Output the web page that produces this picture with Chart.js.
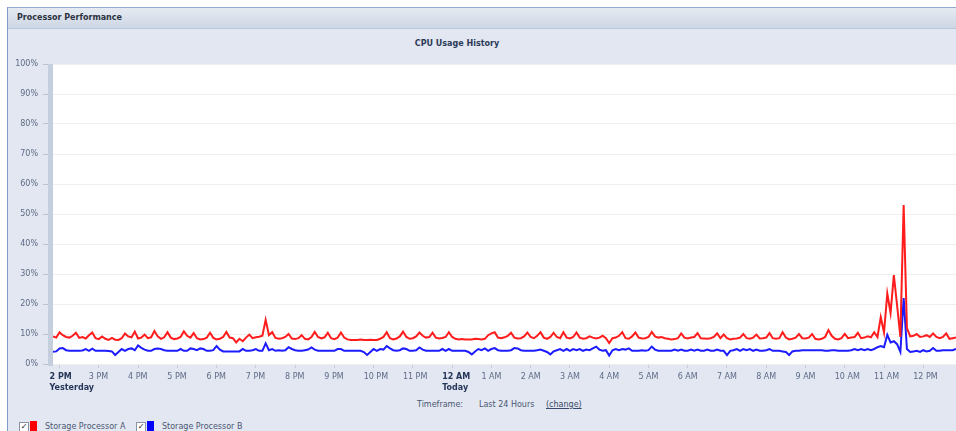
<!DOCTYPE html>
<html>
<head>
<meta charset="utf-8">
<script src="https://cdn.jsdelivr.net/npm/chart.js@4/dist/chart.umd.min.js"></script>
<style>
  html, body { margin: 0; padding: 0; background: #fff; }
  body { width: 956px; height: 431px; overflow: hidden; position: relative; font-family: "DejaVu Sans", Verdana, sans-serif; }
  #frame { position: absolute; left: 7px; top: 7px; right: 0; bottom: 0; border-left: 1px solid #7f9acb; border-top: 1px solid #93a9d1; }
  #header { position: absolute; left: 8px; top: 8px; width: 948px; height: 20px; background: linear-gradient(#e6ebf2, #cdd6e4); border-bottom: 1px solid #b9c5d8; font-size: 8px; font-weight: bold; color: #2d3340; line-height: 20px; }
  #header span { padding-left: 9px; }
  #panel { position: absolute; left: 8px; top: 29px; width: 948px; height: 402px; background: #e2e7f1; }
  #title { position: absolute; left: 357px; top: 39px; width: 200px; text-align: center; font-size: 8px; font-weight: bold; color: #2c3a58; }
  #chartBox { position: absolute; left: 8px; top: 28px; width: 948px; height: 372px; }
  .tf { position: absolute; top: 400px; font-size: 8px; color: #4b5872; }
  .tf u { color: #3a4a6a; }
  .leg { position: absolute; top: 421px; height: 10px; }
  .chk { position: absolute; top: 1px; width: 8px; height: 8px; border: 1px solid #8a93a3; background: #fff; font-size: 8px; line-height: 8px; color: #222; text-align: center; }
  .sw { position: absolute; top: 0; width: 7px; height: 10px; }
  .lt { position: absolute; top: 1px; font-size: 8px; color: #4b5872; white-space: nowrap; }
</style>
</head>
<body>
<div id="frame"></div>
<div id="header"><span>Processor Performance</span></div>
<div id="panel"></div>
<div id="title">CPU Usage History</div>
<div id="chartBox"><canvas id="chart"></canvas></div>

<div class="tf" style="left:417px">Timeframe:</div>
<div class="tf" style="left:479px">Last 24 Hours</div>
<div class="tf" style="left:546px"><u>(change)</u></div>

<div class="leg" style="left:0">
  <div class="chk" style="left:19px">&#10003;</div>
  <div class="sw" style="left:30px;background:#ff0000"></div>
  <div class="lt" style="left:45px">Storage Processor A</div>
  <div class="chk" style="left:136px">&#10003;</div>
  <div class="sw" style="left:147px;background:#0000ff"></div>
  <div class="lt" style="left:162px">Storage Processor B</div>
</div>

<script>
// hour ticks, 0 = 2 PM yesterday
const hourLabels = [
  ["2 PM", "Yesterday"], "3 PM", "4 PM", "5 PM", "6 PM", "7 PM", "8 PM", "9 PM", "10 PM", "11 PM",
  ["12 AM", "Today"], "1 AM", "2 AM", "3 AM", "4 AM", "5 AM", "6 AM", "7 AM", "8 AM", "9 AM",
  "10 AM", "11 AM", "12 PM"
];
const boldTicks = [0, 10];

// samples every 5 minutes, first one at 1:50 PM (10 min before the first tick)
const firstSampleMin = -10;
const sampleStepMin = 5;

const yTicks = [0, 10, 20, 30, 40, 50, 60, 70, 80, 90, 100];

// Storage Processor A (%), one row per hour
const spA = [
  9.2, 8.8,
  10.6, 9.6, 9.0, 8.8, 9.4, 10.4, 8.7, 9.0, 8.5, 9.6, 10.5, 8.6,
  8.3, 9.2, 8.4, 8.0, 8.7, 8.1, 8.0, 8.6, 10.2, 9.2, 8.9, 10.8,
  8.5, 8.8, 9.8, 8.6, 8.9, 11.0, 9.2, 8.4, 8.9, 10.6, 8.8, 8.3,
  8.5, 9.0, 10.9, 9.4, 8.8, 10.3, 8.6, 8.2, 8.3, 8.8, 10.4, 8.7,
  8.2, 8.4, 9.0, 10.7, 8.8, 8.6, 7.2, 8.4, 7.6, 8.8, 9.8, 8.6,
  8.9, 9.1, 9.4, 14.7, 9.6, 10.6, 8.7, 8.4, 8.6, 9.0, 10.0, 8.5,
  8.3, 8.6, 9.6, 8.4, 8.2, 9.0, 10.7, 9.0, 8.5, 8.9, 10.4, 8.6,
  8.3, 8.8, 10.5, 8.8, 8.2, 8.0, 8.0, 8.0, 8.2, 8.0, 8.0, 8.1,
  8.0, 8.0, 8.4, 9.0, 10.6, 8.6, 8.2, 8.5, 9.2, 10.8, 9.0, 8.4,
  8.6, 9.2, 10.5, 9.4, 8.8, 9.0, 10.4, 8.8, 8.5, 8.7, 9.0, 10.6,
  9.0, 8.4, 8.2, 8.3, 8.2, 8.2, 8.2, 8.4, 8.3, 8.2, 8.4, 9.6,
  10.2, 10.6, 8.8, 8.6, 8.9, 9.4, 10.4, 8.8, 8.5, 8.6, 9.2, 10.5,
  9.0, 8.6, 9.4, 10.6, 8.8, 8.4, 9.0, 10.4, 9.0, 8.6, 10.6, 8.8,
  8.5, 9.0, 10.5, 8.8, 8.4, 8.6, 9.2, 8.8, 8.5, 8.8, 9.4, 8.6,
  7.0, 8.6, 8.8, 9.4, 10.6, 8.6, 8.4, 9.2, 10.5, 8.8, 8.5, 8.6,
  9.0, 10.7, 9.2, 8.8, 9.0, 8.6, 8.4, 8.2, 8.3, 8.6, 10.2, 8.8,
  8.5, 8.8, 9.0, 10.3, 8.6, 8.5, 8.4, 8.6, 9.0, 10.2, 8.6, 9.8,
  8.6, 8.2, 8.4, 8.5, 8.8, 10.0, 8.6, 8.4, 8.8, 9.8, 8.5, 8.6,
  8.8, 10.3, 8.6, 8.4, 8.6, 10.6, 8.8, 8.2, 8.4, 8.8, 10.0, 8.6,
  8.5, 8.8, 10.0, 8.4, 8.2, 8.4, 9.0, 11.3, 9.4, 8.4, 8.2, 8.6,
  10.0, 8.6, 8.8, 9.0, 10.4, 8.6, 8.8, 9.2, 8.9, 10.6, 9.0, 15.6,
  10.5, 23.5, 17.0, 29.6, 19.5, 9.0, 53.0, 12.0, 9.2, 9.4, 10.0, 9.0,
  9.2, 9.6, 9.0, 10.2, 9.0, 8.6, 9.0, 10.2, 8.4, 8.6, 8.8
];

// Storage Processor B (%)
const spB = [
  4.1, 4.2,
  5.2, 5.3, 4.6, 4.4, 4.4, 4.4, 4.4, 4.5, 5.0, 4.4, 5.1, 4.4,
  4.4, 4.4, 4.4, 4.3, 4.2, 3.0, 4.0, 5.0, 4.4, 5.0, 5.2, 4.6,
  6.2, 5.4, 4.8, 4.4, 4.4, 5.0, 5.2, 5.0, 4.6, 4.4, 4.4, 4.4,
  4.4, 5.0, 4.4, 4.4, 5.2, 5.0, 4.6, 5.2, 5.0, 4.4, 4.4, 4.6,
  6.0, 4.8, 4.2, 4.2, 4.2, 4.2, 4.2, 4.2, 5.0, 4.4, 4.4, 4.6,
  5.0, 4.4, 4.4, 6.9, 4.6, 5.0, 4.4, 4.6, 4.4, 4.6, 5.6, 5.0,
  4.6, 4.4, 4.4, 4.6, 4.8, 5.5, 4.8, 4.4, 4.4, 4.4, 4.4, 4.4,
  4.4, 5.0, 5.0, 4.4, 4.4, 4.4, 4.4, 4.4, 4.4, 4.0, 3.0, 4.0,
  5.0, 4.4, 5.0, 4.8, 6.0, 5.2, 4.6, 4.4, 4.6, 5.2, 5.0, 4.4,
  4.4, 4.6, 5.5, 4.8, 4.4, 4.4, 4.4, 4.4, 4.4, 5.0, 4.4, 5.0,
  4.4, 4.4, 4.4, 4.4, 4.4, 4.0, 3.2, 4.2, 5.0, 4.6, 5.2, 4.4,
  5.0, 5.3, 4.6, 4.4, 4.4, 4.4, 4.6, 5.3, 5.2, 4.6, 4.4, 4.4,
  4.4, 4.4, 4.6, 4.8, 4.4, 4.0, 3.2, 4.2, 4.6, 5.0, 4.4, 5.0,
  4.4, 5.0, 4.6, 5.0, 4.4, 4.8, 4.6, 5.2, 5.8, 4.8, 4.4, 4.6,
  2.8, 4.6, 5.0, 4.6, 5.0, 4.8, 5.2, 4.4, 4.4, 4.4, 4.6, 4.4,
  4.6, 5.8, 4.8, 4.4, 4.4, 4.4, 4.4, 4.4, 4.8, 4.4, 4.8, 4.4,
  4.4, 4.8, 4.4, 4.8, 4.4, 4.4, 4.8, 4.4, 4.4, 4.8, 4.4, 4.4,
  3.0, 4.4, 4.6, 5.0, 4.4, 5.0, 4.6, 5.0, 4.4, 4.8, 4.4, 4.4,
  4.6, 5.0, 4.4, 4.4, 4.4, 4.2, 4.0, 3.0, 4.2, 4.4, 4.4, 4.6,
  4.6, 4.6, 4.6, 4.6, 4.6, 4.6, 4.4, 4.4, 4.6, 4.6, 4.4, 4.4,
  4.4, 4.4, 4.6, 5.0, 4.6, 5.0, 4.6, 5.0, 4.6, 5.0, 5.6, 6.0,
  5.6, 9.7, 7.2, 7.6, 6.6, 4.0, 22.0, 5.0, 4.0, 4.2, 4.4, 4.0,
  4.6, 4.2, 4.4, 5.3, 4.4, 4.4, 4.6, 4.6, 4.6, 4.6, 5.0
];

const FONT = "'DejaVu Sans', Verdana, sans-serif";

function toPoints(values) {
  return values.map((v, i) => ({ x: (firstSampleMin + i * sampleStepMin) / 60, y: v }));
}

// white plot background + the grey strip along the y axis
const plotBackground = {
  id: "plotBackground",
  beforeDraw(chart) {
    const { ctx, chartArea: a } = chart;
    ctx.save();
    ctx.fillStyle = "#ffffff";
    ctx.fillRect(a.left, a.top, a.right - a.left, a.bottom - a.top);
    ctx.restore();
  },
  afterDraw(chart) {
    const { ctx, chartArea: a } = chart;
    ctx.save();
    ctx.fillStyle = "#c4cedc";
    ctx.fillRect(a.left - 5, a.top, 5, a.bottom - a.top + 2);
    ctx.restore();
  }
};

const ctx = document.getElementById("chart").getContext("2d");
new Chart(ctx, {
  type: "line",
  data: {
    datasets: [
      {
        label: "Storage Processor A",
        data: toPoints(spA),
        borderColor: "#ff1c1c",
        borderWidth: 2,
        pointRadius: 0,
        tension: 0,
        fill: false
      },
      {
        label: "Storage Processor B",
        data: toPoints(spB),
        borderColor: "#1c1cff",
        borderWidth: 2,
        pointRadius: 0,
        tension: 0,
        fill: false
      }
    ]
  },
  options: {
    responsive: true,
    maintainAspectRatio: false,
    animation: false,
    layout: { padding: { top: 36, left: 0, right: 0, bottom: 0 } },
    plugins: {
      legend: { display: false },
      tooltip: { enabled: false },
      title: { display: false }
    },
    scales: {
      x: {
        type: "linear",
        min: firstSampleMin / 60,
        max: (firstSampleMin + (spA.length - 1) * sampleStepMin) / 60,
        afterBuildTicks: function(scale) {
          scale.ticks = hourLabels.map((l, i) => ({ value: i }));
        },
        afterFit: function(scale) {
          scale.height = 36;
        },
        border: { display: false },
        grid: {
          drawOnChartArea: false,
          tickLength: 4,
          color: "#c4cddb"
        },
        ticks: {
          autoSkip: false,
          maxRotation: 0,
          align: "start",
          labelOffset: -10,
          padding: 4,
          callback: function(value) {
            return hourLabels[value];
          },
          font: function(context) {
            const bold = context.tick && boldTicks.includes(context.tick.value);
            return { family: FONT, size: 8, weight: bold ? "bold" : "normal", lineHeight: 1.35 };
          },
          color: function(context) {
            const bold = context.tick && boldTicks.includes(context.tick.value);
            return bold ? "#26365a" : "#5d6b86";
          }
        }
      },
      y: {
        min: 0,
        max: 100,
        afterBuildTicks: function(scale) {
          scale.ticks = yTicks.map(v => ({ value: v }));
        },
        afterFit: function(scale) {
          scale.width = 45;
        },
        border: { display: false },
        grid: {
          color: "#efefef",
          tickColor: "#b9c3d3",
          tickLength: 10
        },
        ticks: {
          padding: 5,
          callback: function(value) {
            return value + "%";
          },
          font: { family: FONT, size: 8 },
          color: "#5d6b86"
        }
      }
    }
  },
  plugins: [plotBackground]
});
</script>
</body>
</html>
